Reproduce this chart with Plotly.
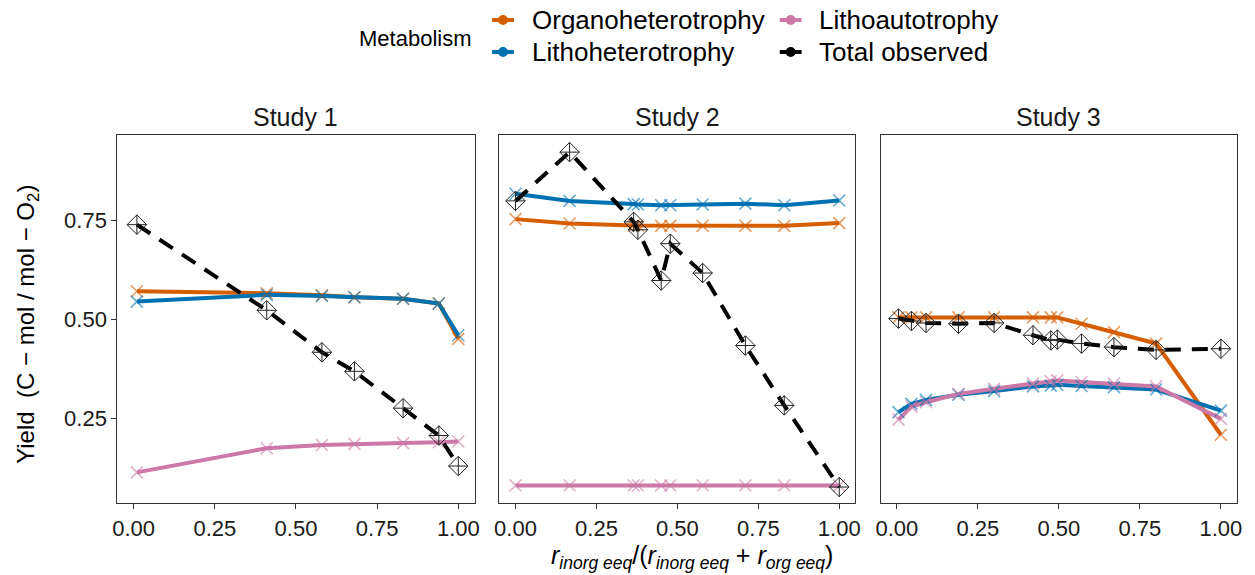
import plotly.graph_objects as go

# ---- data -------------------------------------------------------------
studies = ["Study 1", "Study 2", "Study 3"]

x_study1 = [0.01, 0.41, 0.58, 0.68, 0.83, 0.94, 1.00]
organo_study1 = [0.571, 0.566, 0.561, 0.556, 0.552, 0.540, 0.451]
lithohet_study1 = [0.545, 0.562, 0.559, 0.556, 0.552, 0.540, 0.460]
lithoaut_study1 = [0.114, 0.175, 0.183, 0.186, 0.188, 0.190, 0.192]
total_study1 = [0.739, 0.523, 0.417, 0.369, 0.276, 0.207, 0.130]

x_study2 = [0.0, 0.167, 0.365, 0.378, 0.45, 0.478, 0.578, 0.71, 0.83, 1.0]
organo_study2 = [0.753, 0.742, 0.737, 0.737, 0.736, 0.736, 0.736, 0.736, 0.736, 0.743]
lithohet_study2 = [0.817, 0.799, 0.791, 0.790, 0.788, 0.788, 0.790, 0.792, 0.788, 0.800]
lithoaut_study2 = [0.081, 0.081, 0.081, 0.081, 0.081, 0.081, 0.081, 0.081, 0.081, 0.081]
total_study2 = [0.799, 0.922, 0.746, 0.726, 0.598, 0.691, 0.617, 0.434, 0.283, 0.077]

x_study3 = [0.005, 0.045, 0.09, 0.19, 0.30, 0.42, 0.475, 0.495, 0.57, 0.67, 0.80, 1.00]
organo_study3 = [0.505, 0.505, 0.505, 0.505, 0.505, 0.505, 0.505, 0.505, 0.489, 0.468, 0.439, 0.209]
lithohet_study3 = [0.266, 0.287, 0.297, 0.310, 0.319, 0.331, 0.333, 0.335, 0.332, 0.329, 0.323, 0.270]
lithoaut_study3 = [0.247, 0.280, 0.291, 0.312, 0.325, 0.338, 0.344, 0.346, 0.342, 0.338, 0.331, 0.249]
total_study3 = [0.502, 0.496, 0.491, 0.489, 0.491, 0.460, 0.447, 0.449, 0.439, 0.430, 0.423, 0.426]

metabolisms = ["Organoheterotrophy", "Lithoheterotrophy", "Lithoautotrophy", "Total observed"]
x_ticks = [0.0, 0.25, 0.5, 0.75, 1.0]
x_tick_labels = ["0.00", "0.25", "0.50", "0.75", "1.00"]
y_ticks = [0.25, 0.5, 0.75]
y_tick_labels = ["0.25", "0.50", "0.75"]

# ---- style ------------------------------------------------------------
W, H = 1255, 575
FONT = "Liberation Sans, Arial, sans-serif"
line_colors = {
    "Organoheterotrophy": "#D55E00",
    "Lithoheterotrophy": "#0072B2",
    "Lithoautotrophy": "#CC79A7",
    "Total observed": "#000000",
}
cross_colors = {
    "Organoheterotrophy": "rgba(213,94,0,0.6)",
    "Lithoheterotrophy": "rgba(0,114,178,0.6)",
    "Lithoautotrophy": "rgba(204,121,167,0.6)",
}

# panel boxes in pixels: (left, right), shared top/bottom
panel_px = [(113.3, 473.3), (498.3, 857.3), (882.7, 1242.0)]
top_px, bottom_px = 134.7, 503.3

series = [
    (x_study1, organo_study1, lithohet_study1, lithoaut_study1, total_study1),
    (x_study2, organo_study2, lithohet_study2, lithoaut_study2, total_study2),
    (x_study3, organo_study3, lithohet_study3, lithoaut_study3, total_study3),
]

fig = go.Figure()
layout = {}

for i, (xs, org, lhet, laut, tot) in enumerate(series):
    n = "" if i == 0 else str(i + 1)
    xa, ya = "x" + n, "y" + n
    l, r = panel_px[i]
    layout["xaxis" + n] = dict(
        domain=[l / W, r / W], range=[-0.05, 1.05], anchor=ya,
        tickvals=x_ticks, ticktext=x_tick_labels,
        showgrid=False, zeroline=False,
        showline=True, mirror=True, linecolor="#333333", linewidth=1.2,
        ticks="outside", ticklen=5, tickwidth=1.2, tickcolor="#333333",
        tickfont=dict(family=FONT, size=22, color="#1a1a1a"),
    )
    layout["yaxis" + n] = dict(
        domain=[1 - bottom_px / H, 1 - top_px / H], range=[0.036, 0.966], anchor=xa,
        tickvals=y_ticks, ticktext=y_tick_labels,
        showticklabels=(i == 0),
        showgrid=False, zeroline=False,
        showline=True, mirror=True, linecolor="#333333", linewidth=1.2,
        ticks="outside" if i == 0 else "", ticklen=5, tickwidth=1.2, tickcolor="#333333",
        tickfont=dict(family=FONT, size=22, color="#1a1a1a"),
    )

    for name, ys in zip(metabolisms[:3], (org, lhet, laut)):
        fig.add_trace(go.Scatter(
            x=xs, y=ys, mode="lines", xaxis=xa, yaxis=ya, showlegend=False,
            line=dict(color=line_colors[name], width=4),
        ))
    for name, ys in zip(metabolisms[:3], (org, lhet, laut)):
        fig.add_trace(go.Scatter(
            x=xs, y=ys, mode="markers", xaxis=xa, yaxis=ya, showlegend=False,
            marker=dict(symbol="x-thin-open", size=12, color=cross_colors[name],
                        line=dict(color=cross_colors[name], width=1.6)),
        ))
    fig.add_trace(go.Scatter(
        x=xs, y=tot, mode="lines", xaxis=xa, yaxis=ya, showlegend=False,
        line=dict(color="#000000", width=4, dash="16px,11px"),
    ))
    fig.add_trace(go.Scatter(
        x=xs, y=tot, mode="markers", xaxis=xa, yaxis=ya, showlegend=False,
        marker=dict(symbol="diamond-cross-open", size=15, color="#222222",
                    line=dict(color="#222222", width=1)),
    ))

annotations = []
shapes = []

# facet strip titles
for i, title in enumerate(studies):
    l, r = panel_px[i]
    annotations.append(dict(
        x=(l + r) / 2 / W, y=1 - 117 / H, xref="paper", yref="paper",
        text=title, showarrow=False, xanchor="center", yanchor="middle",
        font=dict(family=FONT, size=25, color="#1a1a1a"),
    ))

# axis titles
annotations.append(dict(
    x=22 / W, y=1 - 324 / H, xref="paper", yref="paper", textangle=-90,
    text="Yield  (C \u2212 mol / mol \u2212 O<sub>2</sub>)", showarrow=False,
    xanchor="center", yanchor="middle",
    font=dict(family=FONT, size=24, color="#000000"),
))
annotations.append(dict(
    x=693 / W, y=0, xref="paper", yref="paper",
    text="<i>r</i><sub><i>inorg eeq</i></sub>/(<i>r</i><sub><i>inorg eeq</i></sub>"
         " + <i>r</i><sub><i>org eeq</i></sub>)",
    showarrow=False, xanchor="center", yanchor="bottom",
    font=dict(family=FONT, size=25, color="#000000"),
))

# legend drawn as keys + labels in two columns
annotations.append(dict(
    x=355 / W, y=1 - 38 / H, xref="paper", yref="paper", text="Metabolism",
    showarrow=False, xanchor="left", yanchor="middle",
    font=dict(family=FONT, size=22, color="#000000"),
))
legend_slots = [(502, 20), (502, 52), (792, 20), (792, 52)]
for name, (kx, ky) in zip(metabolisms, legend_slots):
    c = line_colors[name]
    shapes.append(dict(
        type="line", xref="paper", yref="paper",
        x0=(kx - 11) / W, x1=(kx + 11) / W, y0=1 - ky / H, y1=1 - ky / H,
        line=dict(color=c, width=4),
    ))
    shapes.append(dict(
        type="circle", xref="paper", yref="paper",
        x0=(kx - 5) / W, x1=(kx + 5) / W, y0=1 - (ky + 5) / H, y1=1 - (ky - 5) / H,
        fillcolor=c, line=dict(color=c, width=0),
    ))
    annotations.append(dict(
        x=(kx + 27) / W, y=1 - ky / H, xref="paper", yref="paper", text=name,
        showarrow=False, xanchor="left", yanchor="middle",
        font=dict(family=FONT, size=26, color="#000000"),
    ))

fig.update_layout(
    width=W, height=H,
    margin=dict(l=0, r=0, t=0, b=0),
    paper_bgcolor="white", plot_bgcolor="white",
    showlegend=False,
    annotations=annotations, shapes=shapes,
    **layout,
)

fig.write_html("out.html")
